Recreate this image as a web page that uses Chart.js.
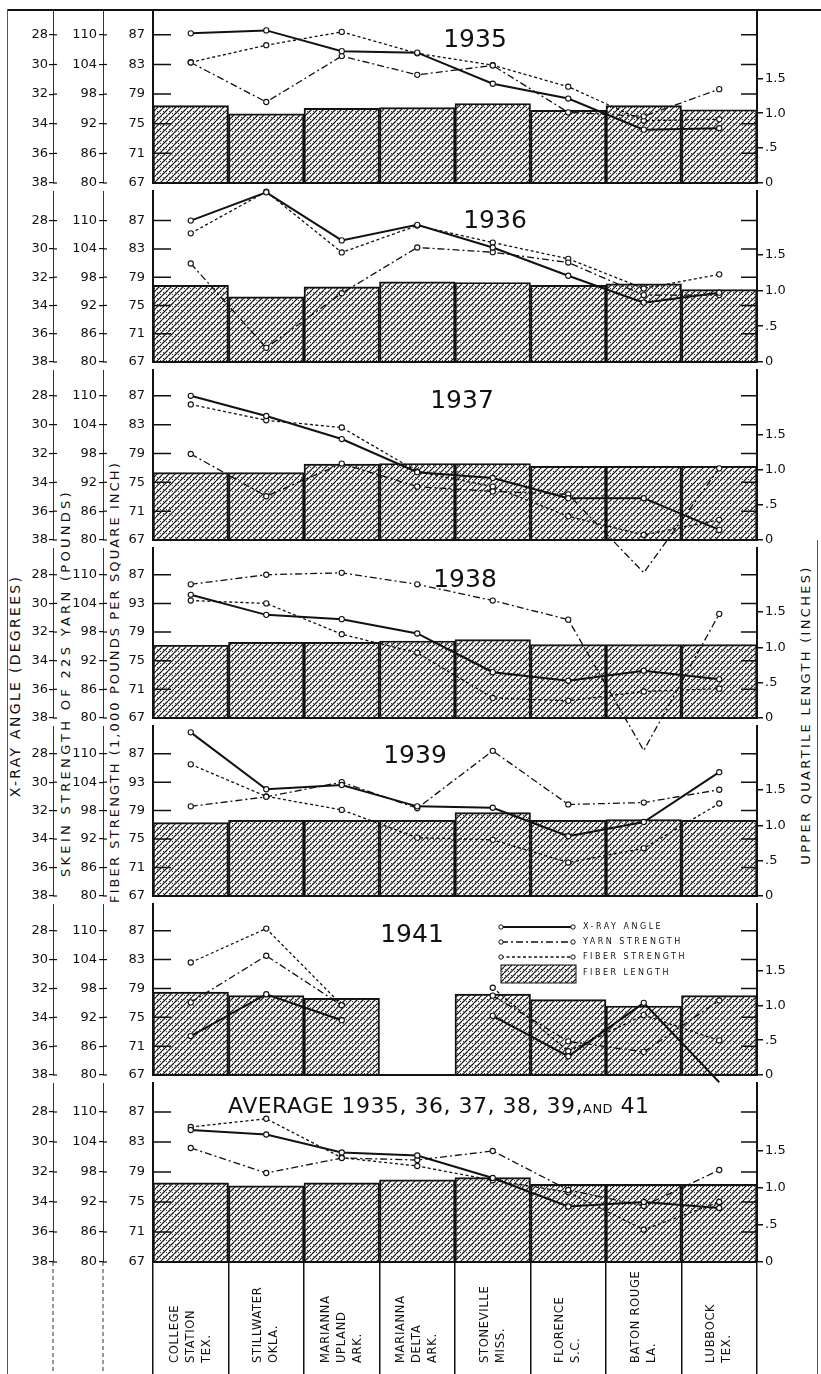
<!DOCTYPE html>
<html>
<head>
<meta charset="utf-8">
<title>Fiber and yarn properties by location</title>
<script src="https://cdn.jsdelivr.net/npm/chart.js@4.4.0/dist/chart.umd.min.js"></script>
<style>
  html, body { margin: 0; background: #fff; }
  #wrap { position: relative; width: 821px; height: 1374px; overflow: hidden; background: #fff; }
  #wrap canvas { position: absolute; left: 0; }
  .rule { position: absolute; background: #111; }
  .vt { position: absolute; white-space: nowrap; color: #111; font-family: "DejaVu Sans", sans-serif;
        line-height: 1; transform: translate(-50%, -50%) rotate(-90deg); }
</style>
</head>
<body>
<div id="wrap">
  <div class="rule" style="left:8px;top:9px;width:813px;height:2px"></div>
  <div class="rule" style="left:7px;top:9px;width:1px;height:1365px;background:#555"></div>
  <div class="rule" style="left:817px;top:540px;width:1px;height:834px;background:#555"></div>
  <div class="vt" style="left:15px;top:686px;font-size:14px;letter-spacing:2.3px">X-RAY ANGLE (DEGREES)</div>
  <div class="vt" style="left:65px;top:683px;font-size:13px;letter-spacing:3.3px">SKEIN STRENGTH OF 22S YARN (POUNDS)</div>
  <div class="vt" style="left:114px;top:682px;font-size:13px;letter-spacing:2.1px">FIBER STRENGTH (1,000 POUNDS PER SQUARE INCH)</div>
  <div class="vt" style="left:805px;top:715px;font-size:13px;letter-spacing:2.3px">UPPER QUARTILE LENGTH (INCHES)</div>
</div>
<script>
const locations = [
  ["COLLEGE", "STATION", "TEX."],
  ["STILLWATER", "OKLA."],
  ["MARIANNA", "UPLAND", "ARK."],
  ["MARIANNA", "DELTA", "ARK."],
  ["STONEVILLE", "MISS."],
  ["FLORENCE", "S.C."],
  ["BATON ROUGE", "LA."],
  ["LUBBOCK", "TEX."]
];
const panelTitles = ["1935", "1936", "1937", "1938", "1939", "1941", "AVERAGE 1935, 36, 37, 38, 39, AND 41"];

// x-ray angle (degrees), yarn strength (pounds), fiber strength (1,000 psi), fiber length (inches)
const xray1935 = [27.9, 27.7, 29.1, 29.2, 31.3, 32.3, 34.4, 34.3];
const yarn1935 = [104.4, 96.4, 105.7, 101.9, 103.8, 94.3, 93.5, 99.0];
const fiber1935 = [83.3, 85.6, 87.4, 84.5, 82.9, 80.0, 75.4, 75.6];
const length1935 = [1.11, 0.99, 1.07, 1.08, 1.14, 1.04, 1.11, 1.05];

const xray1936 = [28.0, 26.0, 29.4, 28.3, 29.9, 31.9, 33.8, 33.1];
const yarn1936 = [100.9, 83.0, 94.6, 104.3, 103.3, 101.1, 94.2, 94.2];
const fiber1936 = [85.2, 91.1, 82.5, 86.3, 83.9, 81.6, 77.4, 79.4];
const length1936 = [1.07, 0.91, 1.05, 1.12, 1.11, 1.07, 1.09, 1.01];

const xray1937 = [28.0, 29.4, 31.0, 33.3, 33.7, 35.1, 35.1, 37.3];
const yarn1937 = [97.9, 89.1, 95.9, 91.1, 90.1, 89.5, 73.2, 94.9];
const fiber1937 = [85.8, 83.6, 82.6, 76.5, 74.4, 70.3, 67.7, 69.8];
const length1937 = [0.96, 0.96, 1.08, 1.09, 1.09, 1.05, 1.05, 1.05];

const xray1938 = [29.4, 30.8, 31.1, 32.1, 34.8, 35.4, 34.7, 35.3];
const yarn1938 = [108.0, 110.0, 110.4, 108.0, 104.6, 100.6, 73.2, 101.8];
const fiber1938 = [83.4, 83.0, 78.7, 76.1, 69.8, 69.4, 70.7, 71.1];
const length1938 = [1.03, 1.07, 1.07, 1.09, 1.11, 1.04, 1.04, 1.04];

const xray1939 = [26.5, 30.5, 30.2, 31.7, 31.8, 33.8, 32.8, 29.3];
const yarn1939 = [98.9, 100.9, 104.0, 98.5, 110.6, 99.3, 99.7, 102.4];
const fiber1939 = [85.5, 81.0, 79.1, 75.2, 74.9, 71.7, 73.7, 80.0];
const length1939 = [1.04, 1.07, 1.07, 1.07, 1.18, 1.07, 1.08, 1.07];

const xray1941 = [35.3, 32.4, 34.2, null, 33.9, 36.7, 33.0, 38.5];
const yarn1941 = [95.1, 104.8, 94.5, null, 96.5, 87.0, 84.8, 95.5];
const fiber1941 = [82.6, 87.3, 76.7, null, 79.1, 70.3, 75.3, 71.8];
const length1941 = [1.19, 1.14, 1.10, null, 1.16, 1.08, 0.99, 1.14];

const xrayAvg = [29.2, 29.5, 30.7, 30.9, 32.4, 34.3, 34.0, 34.4];
const yarnAvg = [102.8, 97.8, 100.8, 100.4, 102.2, 94.4, 91.2, 98.4];
const fiberAvg = [85.0, 86.1, 80.9, 79.8, 77.9, 76.3, 71.3, 75.0];
const lengthAvg = [1.07, 1.03, 1.07, 1.11, 1.14, 1.05, 1.05, 1.05];

const xrayTicks = [28, 30, 32, 34, 36, 38];
const yarnTicks = [80, 86, 92, 98, 104, 110];
const fiberTicks = [67, 71, 75, 79, 83, 87];
const lengthTicks = [0, 0.5, 1.0, 1.5];

const xraySeries = [xray1935, xray1936, xray1937, xray1938, xray1939, xray1941, xrayAvg];
const yarnSeries = [yarn1935, yarn1936, yarn1937, yarn1938, yarn1939, yarn1941, yarnAvg];
const fiberSeries = [fiber1935, fiber1936, fiber1937, fiber1938, fiber1939, fiber1941, fiberAvg];
const lengthSeries = [length1935, length1936, length1937, length1938, length1939, length1941, lengthAvg];

// page layout of the stacked panels
const panelTop = [10, 191, 370, 548, 726, 904, 1083];
const panelBottom = [191, 370, 548, 726, 904, 1083, 1262];
const pxPerDeg = [15.5, 14.8, 15.1, 15.0, 14.9, 15.1, 15.0];
const pxPerInch = [73, 75, 73.5, 74, 74, 73, 74];
const titleAt = [[475, 47], [495, 228], [462, 408], [465, 587], [415, 763], [412, 942], [228, 1113]];
const PAD = 45, LABEL_H = 112;

Chart.defaults.font.family = '"DejaVu Sans", sans-serif';
Chart.defaults.color = '#111';

function makeHatch() {
  const t = document.createElement('canvas');
  t.width = 6; t.height = 6;
  const g = t.getContext('2d');
  g.strokeStyle = '#1a1a1a';
  g.lineWidth = 1.25;
  g.beginPath();
  for (let k = -6; k <= 6; k += 6) { g.moveTo(k, 6); g.lineTo(k + 6, 0); }
  g.stroke();
  g.fillStyle = '#333';
  g.fillRect(4, 4, 1, 1);
  g.fillRect(1, 2, 1, 1);
  return g.createPattern(t, 'repeat');
}
const hatch = makeHatch();

const lineStyle = {
  xray: { borderWidth: 2, borderDash: [] },
  yarn: { borderWidth: 1.3, borderDash: [7, 3, 2, 3] },
  fiber: { borderWidth: 1.3, borderDash: [3, 2.5] }
};

function lineSet(label, data, axis) {
  return {
    type: 'line', label, data, yAxisID: axis, borderColor: '#111', ...lineStyle[axis],
    pointRadius: 2.6, pointBackgroundColor: '#fff', pointBorderColor: '#111', pointBorderWidth: 1.1,
    tension: 0, spanGaps: false, clip: false, order: 0
  };
}

// short dashes inside the plot at the fiber-strength ticks, plus the crossing
// halves of the ticks on the two outer axes
const innerTicks = {
  id: 'innerTicks',
  afterDatasetsDraw(chart) {
    const { ctx, chartArea: a, scales } = chart;
    const s = scales.fiber;
    ctx.save();
    ctx.strokeStyle = '#111';
    ctx.lineWidth = 1.5;
    s.ticks.forEach(t => {
      if (t.value === s.min) return;
      const y = s.getPixelForValue(t.value);
      ctx.beginPath();
      ctx.moveTo(a.left, y); ctx.lineTo(a.left + 18, y);
      ctx.moveTo(a.right - 16, y); ctx.lineTo(a.right, y);
      ctx.stroke();
    });
    ctx.lineWidth = 1.2;
    [scales.xray, scales.yarn].forEach(sc => {
      sc.ticks.forEach(t => {
        const y = sc.getPixelForValue(t.value);
        ctx.beginPath(); ctx.moveTo(sc.right, y); ctx.lineTo(sc.right + 4, y); ctx.stroke();
      });
    });
    ctx.restore();
  }
};

const panelTitle = {
  id: 'panelTitle',
  afterDraw(chart, args, o) {
    const ctx = chart.ctx;
    ctx.save();
    ctx.fillStyle = '#111';
    ctx.textBaseline = 'alphabetic';
    ctx.textAlign = 'left';
    let parts;
    if (o.text.includes(' AND ')) {
      const [a, b] = o.text.split(' AND ');
      parts = [[a, 22, 0.5], ['AND', 13, 0.5], [' ' + b, 22, 0.5]];
    } else {
      parts = [[o.text, 25, 0]];
    }
    let total = 0;
    parts.forEach(p => {
      ctx.font = p[1] + 'px "DejaVu Sans"';
      ctx.letterSpacing = p[2] + 'px';
      p.push(ctx.measureText(p[0]).width);
      total += p[3];
    });
    let x = o.align === 'left' ? o.x : o.x - total / 2;
    const y = o.y - o.canvasTop;
    parts.forEach(p => {
      ctx.font = p[1] + 'px "DejaVu Sans"';
      ctx.letterSpacing = p[2] + 'px';
      ctx.fillText(p[0], x, y);
      x += p[3];
    });
    ctx.restore();
  }
};

const categoryLabels = {
  id: 'categoryLabels',
  afterDraw(chart, args, o) {
    if (!o.show) return;
    const { ctx, scales } = chart;
    const x = scales.x;
    ctx.save();
    // extend the outer two axis lines through the label strip
    ctx.strokeStyle = '#333';
    ctx.lineWidth = 1;
    ctx.setLineDash([4, 3]);
    [scales.xray.right, scales.yarn.right].forEach(px => {
      ctx.beginPath();
      ctx.moveTo(px, chart.chartArea.bottom);
      ctx.lineTo(px, chart.height);
      ctx.stroke();
    });
    ctx.setLineDash([]);
    ctx.font = '11.5px "DejaVu Sans"';
    ctx.letterSpacing = '0.7px';
    ctx.fillStyle = '#111';
    ctx.textAlign = 'left';
    ctx.textBaseline = 'middle';
    x.getLabels().forEach((lines, i) => {
      const cx = x.getPixelForValue(i);
      ctx.save();
      ctx.translate(cx, o.bottom - o.canvasTop);
      ctx.rotate(-Math.PI / 2);
      lines.forEach((ln, j) => ctx.fillText(ln, 0, (j - (lines.length - 1) / 2) * 16));
      ctx.restore();
    });
    ctx.restore();
  }
};

const miniLegend = {
  id: 'miniLegend',
  afterDraw(chart, args, o) {
    if (!o.show) return;
    const { ctx, chartArea: a } = chart;
    const x0 = a.left + 348, x1 = a.left + 420, tx = a.left + 430;
    const rows = [
      ['X-RAY ANGLE', 'xray', 23],
      ['YARN STRENGTH', 'yarn', 38],
      ['FIBER STRENGTH', 'fiber', 53]
    ];
    ctx.save();
    ctx.font = '8px "DejaVu Sans"';
    ctx.letterSpacing = '2.5px';
    ctx.textBaseline = 'middle';
    ctx.fillStyle = '#111';
    rows.forEach(([label, key, dy]) => {
      const y = a.top + dy;
      ctx.strokeStyle = '#111';
      ctx.lineWidth = lineStyle[key].borderWidth;
      ctx.setLineDash(lineStyle[key].borderDash);
      ctx.beginPath(); ctx.moveTo(x0, y); ctx.lineTo(x1, y); ctx.stroke();
      ctx.setLineDash([]);
      ctx.lineWidth = 1;
      [x0, x1].forEach(px => {
        ctx.beginPath(); ctx.arc(px, y, 2.2, 0, Math.PI * 2);
        ctx.fillStyle = '#fff'; ctx.fill(); ctx.stroke();
      });
      ctx.fillStyle = '#111';
      ctx.fillText(label, tx, y);
    });
    ctx.fillStyle = hatch;
    ctx.fillRect(x0, a.top + 61, x1 - x0 + 3, 18);
    ctx.strokeStyle = '#111';
    ctx.lineWidth = 1;
    ctx.strokeRect(x0, a.top + 61, x1 - x0 + 3, 18);
    ctx.fillStyle = '#111';
    ctx.fillText('FIBER LENGTH', tx, a.top + 69);
    ctx.restore();
  }
};

const wrap = document.getElementById('wrap');
const tickFont = { family: '"DejaVu Sans"', size: 13 };

function buildPanel(i) {
  const last = i === panelTitles.length - 1;
  const h = panelBottom[i] - panelTop[i];
  const span = h / pxPerDeg[i];
  const canvasTop = panelTop[i] - PAD;
  const cv = document.createElement('canvas');
  cv.width = 821;
  cv.height = h + PAD + (last ? LABEL_H : PAD);
  cv.style.top = canvasTop + 'px';
  cv.style.zIndex = String(20 - i);
  wrap.appendChild(cv);

  const typo = panelTitles[i] === '1938' || panelTitles[i] === '1939';

  new Chart(cv, {
    type: 'bar',
    data: {
      labels: locations,
      datasets: [
        lineSet('X-RAY ANGLE', xraySeries[i], 'xray'),
        lineSet('YARN STRENGTH', yarnSeries[i], 'yarn'),
        lineSet('FIBER STRENGTH', fiberSeries[i], 'fiber'),
        {
          type: 'bar', label: 'FIBER LENGTH', data: lengthSeries[i], yAxisID: 'len',
          backgroundColor: hatch, borderColor: '#111', borderWidth: 1.3,
          categoryPercentage: 1, barPercentage: 1, grouped: false, order: 1
        }
      ]
    },
    options: {
      responsive: false,
      animation: false,
      devicePixelRatio: 1,
      layout: { padding: { top: PAD, bottom: last ? 0 : PAD, left: 0, right: 0 } },
      plugins: {
        legend: { display: false },
        tooltip: { enabled: false },
        panelTitle: { text: panelTitles[i], x: titleAt[i][0], y: titleAt[i][1], canvasTop, align: last ? 'left' : 'center' },
        categoryLabels: { show: last, bottom: 1363, canvasTop },
        miniLegend: { show: panelTitles[i] === '1941' }
      },
      scales: {
        x: {
          type: 'category', offset: true, display: true,
          grid: last
            ? { display: true, offset: true, drawOnChartArea: false, drawTicks: true, tickLength: LABEL_H, color: '#111', lineWidth: 1.5 }
            : { display: false },
          ticks: { display: false },
          border: { display: true, color: '#111', width: 2 }
        },
        xray: {
          position: 'left', weight: 2, reverse: true, min: 38 - span, max: 38,
          afterBuildTicks: s => { s.ticks = xrayTicks.map(v => ({ value: v })); },
          afterFit: s => { s.width = 53; },
          grid: { drawOnChartArea: false, tickLength: 4, color: '#111', lineWidth: 1.2 },
          border: { color: '#333', width: 1, dash: [4, 3] },
          ticks: { padding: 1, font: tickFont, color: '#111' }
        },
        yarn: {
          position: 'left', weight: 1, min: 80, max: 80 + 3 * span,
          afterBuildTicks: s => { s.ticks = yarnTicks.map(v => ({ value: v })); },
          afterFit: s => { s.width = 50; },
          grid: { drawOnChartArea: false, tickLength: 4, color: '#111', lineWidth: 1.2 },
          border: { color: '#333', width: 1, dash: [4, 3] },
          ticks: { padding: 2, font: tickFont, color: '#111' }
        },
        fiber: {
          position: 'left', weight: 0, min: 67, max: 67 + 2 * span,
          afterBuildTicks: s => { s.ticks = fiberTicks.map(v => ({ value: v })); },
          afterFit: s => { s.width = 50; },
          grid: { drawOnChartArea: false, drawTicks: false },
          border: { color: '#111', width: 2 },
          ticks: { padding: 8, font: tickFont, color: '#111', callback: v => (typo && v === 83 ? '93' : String(v)) }
        },
        len: {
          position: 'right', min: 0, max: h / pxPerInch[i],
          afterBuildTicks: s => { s.ticks = lengthTicks.map(v => ({ value: v })); },
          afterFit: s => { s.width = 64; },
          grid: { drawOnChartArea: false, tickLength: 6, color: '#111', lineWidth: 1.5 },
          border: { color: '#111', width: 2 },
          ticks: { padding: 2, font: tickFont, color: '#111',
                   callback: v => (v === 0 ? '0' : v < 1 ? '.5' : v.toFixed(1)) }
        }
      }
    },
    plugins: [innerTicks, panelTitle, categoryLabels, miniLegend]
  });
}

panelTitles.forEach((t, i) => buildPanel(i));
</script>
</body>
</html>
